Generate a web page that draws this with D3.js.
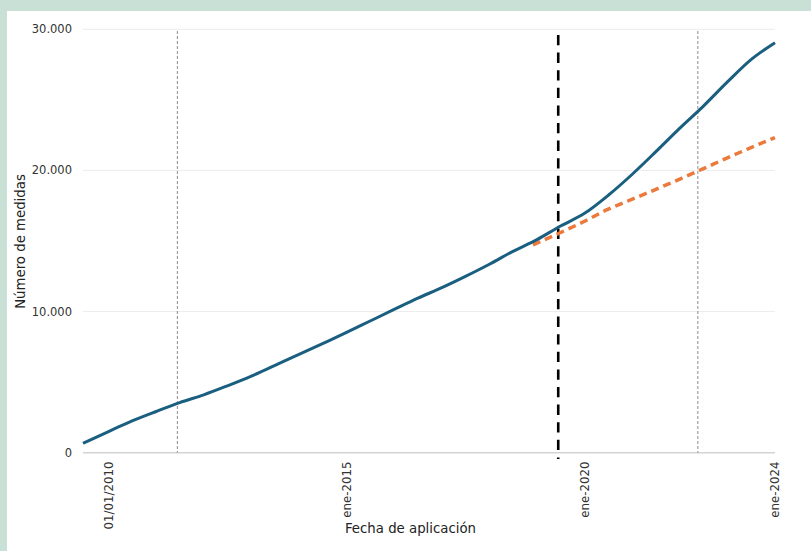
<!DOCTYPE html>
<html>
<head>
<meta charset="utf-8">
<script src="https://cdn.jsdelivr.net/npm/d3@7"></script>
<style>
  html, body { margin: 0; padding: 0; background: #c9e0d6; }
  svg { display: block; font-family: "DejaVu Sans", Verdana, sans-serif; }
</style>
</head>
<body>
<svg id="chart" width="811" height="551"></svg>
<script>
// ---- Data ----
const seriesDates = ["2009-06-19","2010-01-01","2010-07-01","2011-01-01","2011-07-01","2012-01-01","2012-07-01","2013-01-01","2013-07-01","2014-01-01","2014-07-01","2015-01-01","2015-07-01","2016-01-01","2016-07-01","2017-01-01","2017-07-01","2018-01-01","2018-07-01","2019-01-01","2019-07-01","2020-01-01","2020-07-01","2021-01-01","2021-07-01","2022-01-01","2022-07-01","2023-01-01","2023-07-01","2024-01-01"];
const seriesValues = [670,1500,2250,2920,3550,4100,4740,5430,6190,6960,7730,8520,9330,10150,10950,11690,12490,13350,14270,15100,16060,16960,18240,19730,21330,23000,24560,26270,27850,29050];

const trendDates = ["2018-12-01","2019-07-01","2020-01-01","2020-07-01","2021-01-01","2021-07-01","2022-01-01","2022-07-01","2023-01-01","2023-07-01","2024-01-01"];
const trendValues = [14720,15600,16400,17260,17960,18660,19390,20130,20890,21620,22330];

const refDotted = ["2011-06-13","2022-05-19"];
const refDashed = ["2019-06-13"];

const yTicks = [0,10000,20000,30000];
const xTickDates = ["2010-01-01","2015-01-01","2020-01-01","2024-01-01"];
const xTickLabels = ["01/01/2010","ene-2015","ene-2020","ene-2024"];

const yTitle = "Número de medidas";
const xTitle = "Fecha de aplicación";

// ---- Setup ----
const parse = d3.timeParse("%Y-%m-%d");
const svg = d3.select("#chart");
const W = 811, H = 551;

svg.append("rect").attr("width", W).attr("height", H).attr("fill", "#c9e0d6");
svg.append("rect").attr("x", 7).attr("y", 11).attr("width", W - 7).attr("height", H - 11).attr("fill", "#ffffff");

const x = d3.scaleTime()
  .domain([parse("2009-06-19"), parse("2024-01-01")])
  .range([83, 775]);
const y = d3.scaleLinear().domain([0, 30000]).range([452.7, 29.3]);

const loc = d3.formatLocale({decimal: ",", thousands: ".", grouping: [3], currency: ["", "€"]});
const fmt = loc.format(",d");

// gridlines
svg.append("g").selectAll("line").data(yTicks).join("line")
  .attr("x1", 83).attr("x2", 775)
  .attr("y1", d => y(d)).attr("y2", d => y(d))
  .attr("stroke", d => d === 0 ? "#d3d3d3" : "#ececec")
  .attr("stroke-width", d => d === 0 ? 1.5 : 1);

// y tick labels
svg.append("g").selectAll("text").data(yTicks).join("text")
  .attr("x", 72).attr("y", d => y(d)).attr("dy", "0.35em")
  .attr("text-anchor", "end")
  .attr("font-size", "11.5px").attr("fill", "#333")
  .text(d => fmt(d));

// x tick labels
svg.append("g").selectAll("text").data(xTickDates).join("text")
  .attr("transform", d => `translate(${x(parse(d))},461.5) rotate(-90)`)
  .attr("dy", "0.35em")
  .attr("text-anchor", "end")
  .attr("font-size", "11.8px").attr("fill", "#333")
  .text((d, i) => xTickLabels[i]);

// reference lines
svg.append("g").selectAll("line").data(refDotted).join("line")
  .attr("x1", d => x(parse(d))).attr("x2", d => x(parse(d)))
  .attr("y1", 31).attr("y2", 452.7)
  .attr("stroke", "#8c8c8c").attr("stroke-width", 1)
  .attr("stroke-dasharray", "3,2");

svg.append("g").selectAll("line").data(refDashed).join("line")
  .attr("x1", d => x(parse(d))).attr("x2", d => x(parse(d)))
  .attr("y1", 35).attr("y2", 459)
  .attr("stroke", "#000").attr("stroke-width", 2.6)
  .attr("stroke-dasharray", "10.3,7.3");

// lines
const line = d3.line().x(d => x(d[0])).y(d => y(d[1])).curve(d3.curveMonotoneX);

const trendData = trendDates.map((d, i) => [parse(d), trendValues[i]]);
const seriesData = seriesDates.map((d, i) => [parse(d), seriesValues[i]]);

svg.append("path").datum(trendData)
  .attr("d", line).attr("fill", "none")
  .attr("stroke", "#eb7a3c").attr("stroke-width", 3.5)
  .attr("stroke-dasharray", "8,5");

svg.append("path").datum(seriesData)
  .attr("d", line).attr("fill", "none")
  .attr("stroke", "#1a5f80").attr("stroke-width", 3);

// titles
svg.append("text")
  .attr("transform", "translate(24.5,241.5) rotate(-90)")
  .attr("text-anchor", "middle")
  .attr("font-size", "13.3px").attr("fill", "#222")
  .text(yTitle);

svg.append("text")
  .attr("x", 410.5).attr("y", 533)
  .attr("text-anchor", "middle")
  .attr("font-size", "13.3px").attr("fill", "#222")
  .text(xTitle);
</script>
</body>
</html>
